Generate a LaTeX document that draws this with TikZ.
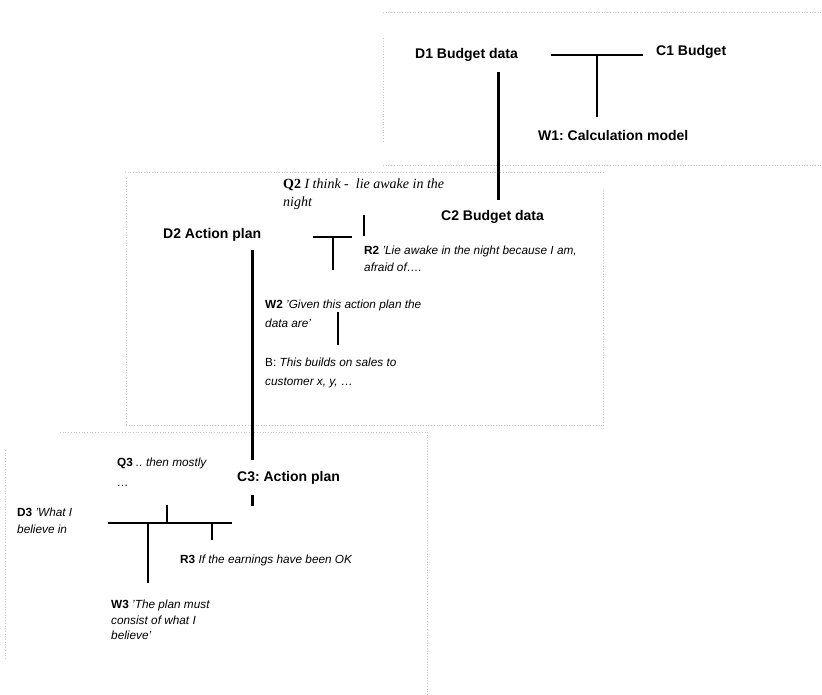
\documentclass[tikz,border=0pt]{standalone}
\usepackage{fontspec}
\setmainfont{Liberation Sans}
\newfontfamily\serifq{Liberation Serif}
\frenchspacing
\begin{document}
\begin{tikzpicture}[x=1pt,y=-1pt,
  lbl/.style={anchor=west,inner sep=0pt,font=\fontsize{14}{16}\selectfont\bfseries},
  txt/.style={anchor=west,inner sep=0pt,align=left,font=\fontsize{11.8}{18}\selectfont},
  conn/.style={line width=1.2pt,black},
  thick conn/.style={line width=3pt,black},
  frame/.style={gray!45,dotted,line width=0.7pt}]
\useasboundingbox (0,0) rectangle (822,695);
% faint frames
\draw[frame] (383,12) -- (822,12);
\draw[frame] (383,38) -- (383,142);
\draw[frame] (383,165) -- (822,165);
\draw[frame] (125,172) -- (603,172);
\draw[frame] (126,178) -- (126,425);
\draw[frame] (603,190) -- (603,428);
\draw[frame] (126,425) -- (603,425);
\draw[frame] (60,432) -- (427,432);
\draw[frame] (427,432) -- (427,695);
\draw[frame] (5,450) -- (5,660);
% labels
\node[lbl] (d1) at (415,55) {D1 Budget data};
\node[lbl] (c1) at (656,52) {C1 Budget};
\node[lbl] (w1) at (538,135) {W1: Calculation model};
\node[lbl] (c2) at (441,217) {C2 Budget data};
\node[lbl] (d2) at (163,235) {D2 Action plan};
\node[lbl] (c3) at (237,478) {C3: Action plan};
\node[txt,font=\serifq\fontsize{14}{18}\selectfont] (q2) at (283,194) {\textbf{Q2} \textit{I think -\ \ lie awake in the}\\\textit{night}};
\node[txt,font=\fontsize{11.8}{17}\selectfont] (r2) at (364,258.5) {\textbf{R2} \textit{'Lie awake in the night because I am,}\\\textit{afraid of….}};
\node[txt,font=\fontsize{11.8}{19}\selectfont] (w2) at (265,313.5) {\textbf{W2} \textit{'Given this action plan the}\\\textit{data are'}};
\node[txt,font=\fontsize{11.8}{19}\selectfont] (b) at (265,372.5) {B: \textit{This builds on sales to}\\\textit{customer x, y, …}};
\node[txt,font=\fontsize{11.8}{20}\selectfont] (q3) at (117,472) {\textbf{Q3} \textit{.. then mostly}\\\textit{…}};
\node[txt,font=\fontsize{11.8}{17}\selectfont] (d3) at (17,520.5) {\textbf{D3} \textit{'What I}\\\textit{believe in}};
\node[txt] (r3) at (180,560) {\textbf{R3} \textit{If the earnings have been OK}};
\node[txt,font=\fontsize{11.8}{15.5}\selectfont] (w3) at (111,620) {\textbf{W3} \textit{'The plan must}\\\textit{consist of what I}\\\textit{believe'}};
% junction coordinates
\coordinate (a1) at (551,55); \coordinate (a2) at (643,55);
\coordinate (j1) at (597,55); \coordinate (j1b) at (597,117);
\coordinate (t1) at (498,72); \coordinate (t2) at (498,200);
\coordinate (q2a) at (364,215); \coordinate (q2b) at (364,236);
\coordinate (h1) at (313,237); \coordinate (h2) at (352,237);
\coordinate (v1) at (333,237); \coordinate (v2) at (333,270);
\coordinate (s1) at (252,250); \coordinate (s2) at (252,460);
\coordinate (s3) at (252,495); \coordinate (s4) at (252,506);
\coordinate (wb1) at (338,312); \coordinate (wb2) at (338,345);
\coordinate (g1) at (108,523); \coordinate (g2) at (232,523);
\coordinate (gq) at (167,505); \coordinate (gq2) at (167,523);
\coordinate (gw) at (148,523); \coordinate (gw2) at (148,583);
\coordinate (gr) at (212,523); \coordinate (gr2) at (212,540);
% connectors
\draw[conn] (a1) -- (a2);
\draw[conn] (j1) -- (j1b);
\draw[thick conn] (t1) -- (t2);
\draw[conn] (q2a) -- (q2b);
\draw[conn] (h1) -- (h2);
\draw[conn] (v1) -- (v2);
\draw[thick conn] (s1) -- (s2);
\draw[thick conn] (s3) -- (s4);
\draw[conn] (wb1) -- (wb2);
\draw[conn] (g1) -- (g2);
\draw[conn] (gq) -- (gq2);
\draw[conn] (gw) -- (gw2);
\draw[conn] (gr) -- (gr2);
\end{tikzpicture}
\end{document}
